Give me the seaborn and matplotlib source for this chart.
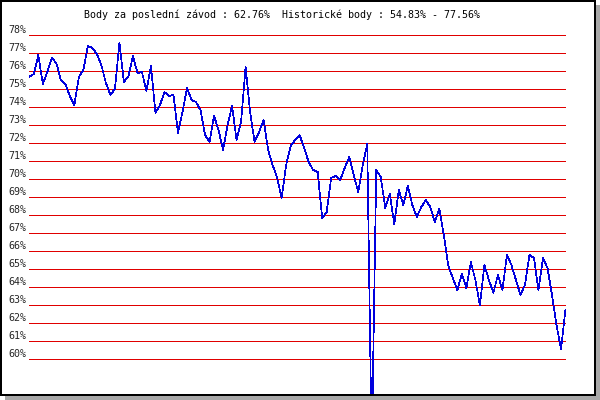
import numpy as np
import pandas as pd
import matplotlib
matplotlib.use("Agg")
import matplotlib.pyplot as plt
import seaborn as sns
from matplotlib.patches import Rectangle
from matplotlib.transforms import ScaledTranslation

# points per race (percent)
points = [
    75.68, 75.83, 76.89, 75.28, 75.94, 76.72, 76.44, 75.50, 75.28, 74.61,
    74.11, 75.67, 76.06, 77.39, 77.28, 76.94, 76.33, 75.33, 74.67, 75.00,
    77.56, 75.39, 75.72, 76.83, 75.89, 75.94, 74.89, 76.28, 73.67, 74.11,
    74.83, 74.61, 74.67, 72.56, 73.72, 75.06, 74.39, 74.28, 73.83, 72.44,
    72.06, 73.50, 72.72, 71.61, 73.00, 74.06, 72.17, 73.17, 76.22, 73.72,
    72.06, 72.61, 73.28, 71.61, 70.78, 70.06, 68.94, 70.78, 71.83, 72.17,
    72.44, 71.72, 70.94, 70.50, 70.39, 67.83, 68.17, 70.06, 70.17, 69.94,
    70.61, 71.22, 70.22, 69.28, 70.78, 71.94, 54.83, 70.50, 70.11, 68.39,
    69.17, 67.50, 69.39, 68.56, 69.61, 68.56, 67.89, 68.44, 68.83, 68.44,
    67.61, 68.33, 66.89, 65.17, 64.50, 63.83, 64.72, 63.94, 65.39, 64.39,
    63.00, 65.22, 64.39, 63.67, 64.67, 63.83, 65.78, 65.22, 64.39, 63.56,
    64.11, 65.78, 65.61, 63.83, 65.61, 65.06, 63.56, 61.89, 60.56, 62.76,
]
races = list(range(len(points)))
tick_values = list(range(60, 79))
tick_labels = [f"{v}%" for v in tick_values]

last_score = 62.76
hist_min = 54.83
hist_max = 77.56

df = pd.DataFrame({"race": races, "points": points})

sns.set_style("white")
plt.rcParams["font.family"] = ["DejaVu Sans Mono"]

W, H = 600, 400
fig = plt.figure(figsize=(6, 4), dpi=100)
fig.patch.set_facecolor("white")

# shadow + framed panel
fig.add_artist(Rectangle((5 / W, 0), 595 / W, 395 / H, transform=fig.transFigure,
                         facecolor="#a8a8a8", edgecolor="none", zorder=0))
fig.add_artist(Rectangle((1 / W, 5 / H), 594 / W, 394 / H, transform=fig.transFigure,
                         facecolor="white", edgecolor="black", linewidth=1.44, zorder=0.5))

left_px, right_px, top_px, bottom_px = 29.3, 565.5, 30, 394
ax = fig.add_axes([left_px / W, 1 - bottom_px / H,
                   (right_px - left_px) / W, (bottom_px - top_px) / H])
ax.set_facecolor("none")
ax.set_zorder(2)

for v in tick_values:
    ax.axhline(v, color="#e00000", linewidth=0.5, antialiased=False, zorder=1)

sns.lineplot(data=df, x="race", y="points", ax=ax, color="#0000dd",
             linewidth=0.5, antialiased=False, zorder=2)

ax.set_xlim(0, len(points) - 1)
ax.set_ylim(78 - (bottom_px - 35) / 18, 78 + (35 - top_px) / 18)
ax.set_xticks([])
ax.set_yticks(tick_values)
ax.set_yticklabels(tick_labels, fontsize=7.2)
ax.tick_params(axis="y", length=0, pad=2.2)
for lab in ax.get_yticklabels():
    lab.set_va("baseline")
    lab.set_transform(lab.get_transform() + ScaledTranslation(0, 1.5 / 72, fig.dpi_scale_trans))
ax.set_xlabel("")
ax.set_ylabel("")
for s in ax.spines.values():
    s.set_visible(False)

fig.text(282 / W, 1 - 15 / H,
         f"Body za poslední závod : {last_score:.2f}%  Historické body : {hist_min:.2f}% - {hist_max:.2f}%",
         ha="center", va="center", fontsize=7.2, color="black")

fig.savefig("out.png", dpi=100)
